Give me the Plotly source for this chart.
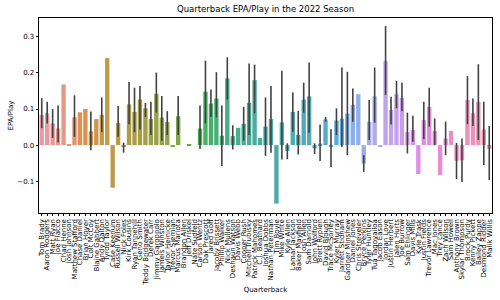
import math
import colorsys
import plotly.graph_objects as go

quarterbacks = [
    "Tom Brady", "Aaron Rodgers", "Matt Ryan", "Joe Flacco", "Chad Henne", "Josh Johnson",
    "Matthew Stafford", "Chase Daniel", "Brian Hoyer", "Colt McCoy", "Blaine Gabbert",
    "Andy Dalton", "Tyrod Taylor", "Case Keenum", "Russell Wilson", "Nick Foles",
    "Kirk Cousins", "Ryan Tannehill", "Geno Smith", "Teddy Bridgewater", "Derek Carr",
    "Jimmy Garoppolo", "Jameis Winston", "Taylor Heinicke", "Trevor Siemian",
    "Marcus Mariota", "Brandon Allen", "Jeff Driskel", "Nate Sudfeld", "Carson Wentz",
    "Dak Prescott", "Jared Goff", "Jacoby Brissett", "Phillip Walker", "Nick Mullens",
    "Deshaun Watson", "Davis Webb", "Cooper Rush", "Mitchell Trubisky", "Patrick Mahomes",
    "C.J. Beathard", "Joshua Dobbs", "Nathan Peterman", "Tim Boyle", "Mike White",
    "Kyle Allen", "Lamar Jackson", "Baker Mayfield", "Josh Allen", "Sam Darnold",
    "John Wolford", "Brett Rypien", "David Blough", "Trace McSorley", "Kyler Murray",
    "Jarrett Stidham", "Gardner Minshew", "Daniel Jones", "Chris Streveler",
    "Bryce Perkins", "Tyler Huntley", "Tua Tagovailoa", "Jacob Eason", "Jordan Love",
    "Justin Herbert", "Jalen Hurts", "Joe Burrow", "Sam Ehlinger", "Davis Mills",
    "Kyle Trask", "Justin Fields", "Trevor Lawrence", "Mac Jones", "Trey Lance",
    "Zach Wilson", "Sam Howell", "Anthony Brown", "Skylar Thompson", "Brock Purdy",
    "Kenny Pickett", "Bailey Zappe", "Desmond Ridder", "Malik Willis",
]

epa_per_play = [
    0.083, 0.088, 0.060, 0.046, 0.168, 0.003, 0.077, 0.091, 0.100, 0.038,
    0.072, 0.084, 0.241, -0.118, 0.061, -0.004, 0.113, 0.092, 0.126, 0.102,
    0.072, 0.142, 0.076, 0.064, -0.005, 0.080, 0.0, 0.003, 0.0, 0.046,
    0.148, 0.115, 0.129, 0.026, 0.185, 0.025, 0.048, 0.059, 0.117, 0.180,
    0.020, 0.051, 0.072, -0.162, 0.063, -0.016, 0.092, 0.028, 0.126, 0.135,
    -0.009, 0.004, 0.071, -0.003, 0.068, 0.073, 0.087, 0.111, 0.141, -0.051,
    0.064, 0.135, -0.005, 0.233, 0.097, 0.141, 0.131, 0.036, 0.042, -0.080,
    0.069, 0.106, 0.039, -0.083, 0.018, 0.039, -0.043, -0.042, 0.125, 0.088,
    0.120, 0.043, -0.010,
]

ci_low = [
    0.047, 0.060, 0.020, 0.008, None, None, 0.023, None, None, -0.014,
    None, 0.036, None, None, 0.023, -0.021, 0.058, 0.036, 0.043, 0.078,
    0.028, 0.090, 0.012, 0.028, None, 0.028, None, None, None, -0.011,
    0.060, 0.078, 0.077, -0.058, 0.126, -0.012, None, 0.012, 0.028, 0.088,
    None, -0.030, -0.021, None, -0.040, -0.039, 0.037, -0.026, 0.090, 0.034,
    -0.025, -0.044, 0.065, -0.061, 0.028, -0.005, -0.028, 0.065, None, -0.074,
    0.014, 0.062, None, 0.139, 0.057, 0.102, 0.094, -0.023, 0.009, None,
    0.017, 0.051, 0.000, None, -0.028, None, -0.094, -0.102, 0.058, 0.053,
    0.014, -0.055, -0.097,
]

ci_high = [
    0.130, 0.120, 0.100, 0.110, None, None, 0.138, None, None, 0.093,
    None, 0.132, None, None, 0.108, 0.007, 0.175, 0.159, 0.164, 0.117,
    0.120, 0.201, 0.136, 0.094, None, 0.136, None, None, None, 0.110,
    0.234, 0.154, 0.202, 0.110, 0.243, 0.055, None, 0.106, 0.226, 0.223,
    None, 0.132, 0.164, None, 0.206, 0.005, 0.146, 0.095, 0.173, 0.229,
    0.005, 0.057, 0.078, 0.044, 0.102, 0.215, 0.203, 0.157, None, -0.028,
    0.125, 0.215, None, 0.330, 0.134, 0.178, 0.173, 0.090, 0.081, None,
    0.120, 0.159, 0.074, None, 0.065, None, 0.006, 0.018, 0.191, 0.129,
    0.224, 0.120, 0.053,
]

y_tick_values = [-0.1, 0.0, 0.1, 0.2, 0.3]
y_tick_labels = ["\u22120.1", "0.0", "0.1", "0.2", "0.3"]

# ---- HUSL palette (as in seaborn) ----
_M = [[3.2406, -1.5372, -0.4986],
      [-0.9689, 1.8758, 0.0415],
      [0.0557, -0.2040, 1.0570]]
_refU, _refV = 0.19784, 0.46834
_lab_e, _lab_k = 0.008856, 903.3


def _max_chroma(L, H):
    hrad = math.radians(H)
    sinH, cosH = math.sin(hrad), math.cos(hrad)
    sub1 = ((L + 16) ** 3) / 1560896.0
    sub2 = sub1 if sub1 > _lab_e else L / _lab_k
    result = float("inf")
    for m1, m2, m3 in _M:
        top = (0.99915 * m1 + 1.05122 * m2 + 1.14460 * m3) * sub2
        rbottom = 0.86330 * m3 - 0.17266 * m2
        lbottom = 0.12949 * m3 - 0.38848 * m1
        bottom = (rbottom * sinH + lbottom * cosH) * sub2
        for t in (0.0, 1.0):
            C = L * (top - 1.05122 * t) / (bottom + 0.17266 * sinH * t)
            if 0.0 < C < result:
                result = C
    return result


def _f_inv(t):
    return t ** 3 if t ** 3 > _lab_e else (116 * t - 16) / _lab_k


def _from_linear(c):
    return 12.92 * c if c <= 0.0031308 else 1.055 * c ** (1 / 2.4) - 0.055


def husl_to_rgb(H, S, L):
    C = _max_chroma(L, H) / 100.0 * S
    hrad = math.radians(H)
    U, V = math.cos(hrad) * C, math.sin(hrad) * C
    varY = _f_inv((L + 16) / 116.0)
    varU = U / (13 * L) + _refU
    varV = V / (13 * L) + _refV
    Y = varY
    X = 0 - (9 * Y * varU) / ((varU - 4) * varV - varU * varV)
    Z = (9 * Y - 15 * varV * Y - varV * X) / (3 * varV)
    rgb = [_from_linear(r[0] * X + r[1] * Y + r[2] * Z) for r in _M]
    return [min(max(c, 0.0), 1.0) for c in rgb]


def husl_palette(n, h=0.01, s=0.9, l=0.7, desat=0.75):
    cols = []
    for i in range(n):
        hue = ((i / n) + h) % 1 * 359
        r, g, b = husl_to_rgb(hue, s * 99, l * 99)
        hh, ll, ss = colorsys.rgb_to_hls(r, g, b)
        r, g, b = colorsys.hls_to_rgb(hh, ll, ss * desat)
        cols.append("rgb(%d,%d,%d)" % (round(r * 255), round(g * 255), round(b * 255)))
    return cols


n = len(quarterbacks)
colors = husl_palette(n)
xs = list(range(n))

err_plus = [None if hi is None else hi - v for v, hi in zip(epa_per_play, ci_high)]
err_minus = [None if lo is None else v - lo for v, lo in zip(epa_per_play, ci_low)]

fig = go.Figure()
fig.add_trace(go.Bar(
    x=xs, y=epa_per_play,
    marker=dict(color=colors, line=dict(width=0)),
    width=0.8,
    error_y=dict(type="data", symmetric=False, array=err_plus, arrayminus=err_minus,
                 color="#424242", thickness=1.6, width=0),
    hovertext=quarterbacks,
))

font = "DejaVu Sans"
fig.update_layout(
    width=500, height=300,
    margin=dict(l=39, r=8, t=18, b=87, autoexpand=False),
    paper_bgcolor="white", plot_bgcolor="white",
    showlegend=False,
    font=dict(family=font, size=7, color="black"),
    title=dict(text="Quarterback EPA/Play in the 2022 Season", x=0.5, xref="paper",
               xanchor="center", y=1 - 9 / 300, yref="container", yanchor="middle",
               font=dict(family=font, size=8.5, color="black")),
    xaxis=dict(
        range=[-0.5, n - 0.5], tickmode="array", tickvals=xs, ticktext=quarterbacks,
        tickangle=-90, tickfont=dict(size=7), ticks="outside", ticklen=2.4,
        tickwidth=0.6, tickcolor="black",
        showline=True, linecolor="black", linewidth=0.8, mirror=True,
        showgrid=False, zeroline=False, automargin=False,
        title=dict(text="Quarterback", font=dict(size=7), standoff=2),
    ),
    yaxis=dict(
        range=[-0.188, 0.352], tickmode="array", tickvals=y_tick_values,
        ticktext=y_tick_labels, tickfont=dict(size=7), ticks="outside", ticklen=2.4,
        tickwidth=0.6, tickcolor="black",
        showline=True, linecolor="black", linewidth=0.8, mirror=True,
        showgrid=False, zeroline=False, automargin=False,
        title=dict(text="EPA/Play", font=dict(size=7), standoff=2),
    ),
)

fig.write_html("out.html")
